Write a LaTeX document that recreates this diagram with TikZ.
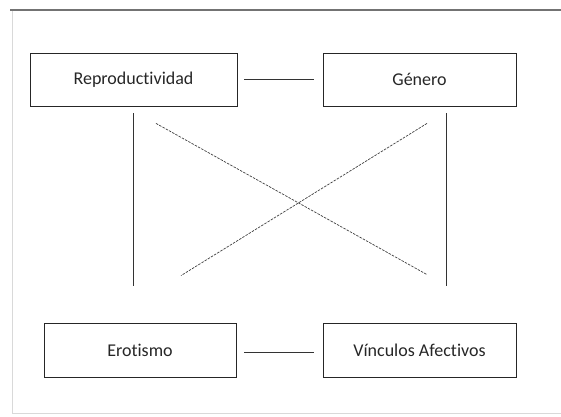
\documentclass[tikz,border=0pt]{standalone}
\usepackage{fontspec}
\setmainfont{Carlito}[Ligatures=NoCommon]
\usetikzlibrary{calc}

\begin{document}
\begin{tikzpicture}[x=1pt,y=-1pt]
	    \tikzstyle{every node}+=[inner sep=0pt]
	    \tikzstyle{caja}=[draw=black!85,line width=0.8pt,rectangle,font=\fontsize{18}{21}\selectfont,text=black!85]
	    \tikzstyle{enlace}=[draw=black!80,line width=0.9pt]
	    \tikzstyle{cruce}=[draw=black!75,line width=0.7pt,dash pattern=on 2.5pt off 1.2pt]
	    \useasboundingbox (0,0) rectangle (561,416);
	    % marco
	    \draw [black!55,line width=2.2pt] (10,10) -- (561,10);
	    \draw [black!15,line width=0.8pt] (12,11) -- (12,413) -- (561,413);
	    % cajas
	    \node [caja,minimum width=207pt,minimum height=53pt] (repro) at (133.5,79.5) {Reproductividad};
	    \node [caja,minimum width=193pt,minimum height=53pt] (genero) at (419.5,79.5) {Género};
	    \node [caja,minimum width=192pt,minimum height=54pt] (erot) at (140,350) {Erotismo};
	    \node [caja,minimum width=193pt,minimum height=54pt] (vinc) at (419.5,350) {Vínculos Afectivos};
	    % enlaces
	    \draw [enlace] ([xshift=7pt]repro.east) -- ([xshift=-9pt]genero.west);
	    \draw [enlace] ([xshift=8pt,yshift=-2pt]erot.east) -- ([xshift=-9pt,yshift=-2pt]vinc.west);
	    \draw [enlace] ([yshift=-7pt]repro.south) -- ([xshift=-6.5pt,yshift=37pt]erot.north);
	    \draw [enlace] ([xshift=26.5pt,yshift=-7pt]genero.south) -- ([xshift=26.5pt,yshift=37pt]vinc.north);
	    \draw [cruce] ([xshift=22.5pt,yshift=-17pt]repro.south) -- ([xshift=7.5pt,yshift=48pt]vinc.north);
	    \draw [cruce] ([xshift=7.5pt,yshift=-17pt]genero.south) -- ([xshift=41pt,yshift=47pt]erot.north);
\end{tikzpicture}
\end{document}
